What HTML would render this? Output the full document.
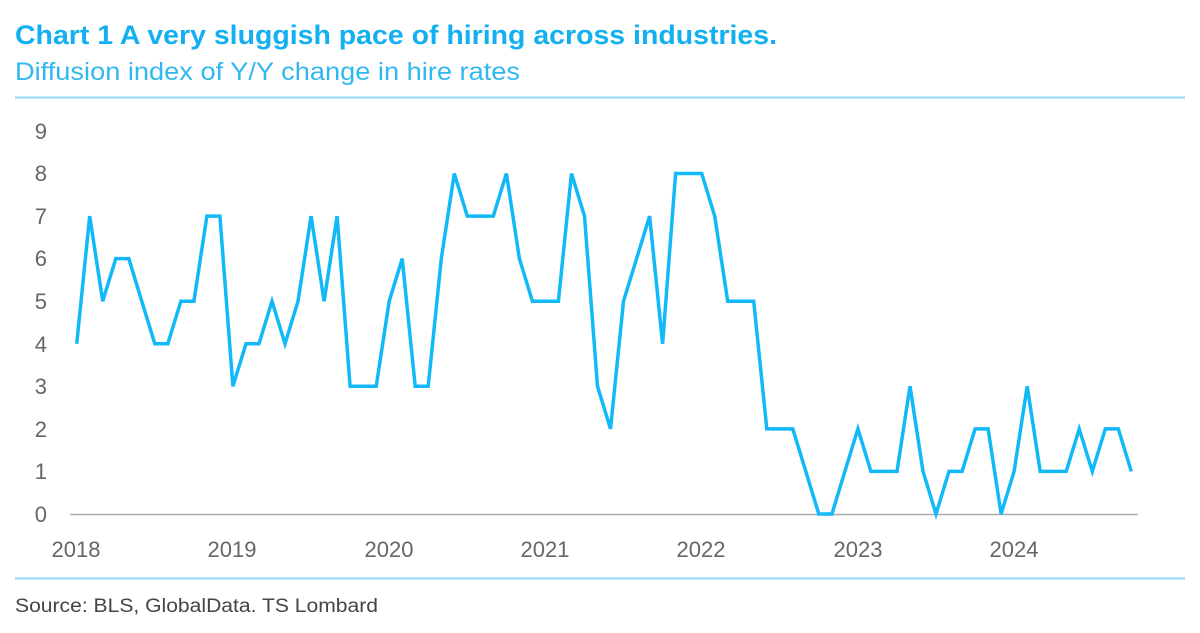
<!DOCTYPE html>
<html><head><meta charset="utf-8"><style>
body{margin:0;background:#fff;width:1200px;height:628px;overflow:hidden;font-family:"Liberation Sans",sans-serif}
</style></head><body>
<svg width="1200" height="628" xmlns="http://www.w3.org/2000/svg" font-family="Liberation Sans, sans-serif">
<text x="15" y="44" font-size="27" font-weight="bold" fill="#12b0f0" textLength="762" lengthAdjust="spacingAndGlyphs">Chart 1 A very sluggish pace of hiring across industries.</text>
<text x="15" y="80" font-size="25" fill="#30b8f0" textLength="505" lengthAdjust="spacingAndGlyphs">Diffusion index of Y/Y change in hire rates</text>
<line x1="15" y1="97.5" x2="1185" y2="97.5" stroke="#8fd8f8" stroke-width="2"/>
<line x1="15" y1="578.5" x2="1185" y2="578.5" stroke="#8fd8f8" stroke-width="2"/>
<g font-size="22" fill="#666" text-anchor="end">
<text x="47" y="522">0</text><text x="47" y="479">1</text><text x="47" y="437">2</text><text x="47" y="394">3</text><text x="47" y="352">4</text><text x="47" y="309">5</text><text x="47" y="266">6</text><text x="47" y="224">7</text><text x="47" y="181">8</text><text x="47" y="139">9</text>
</g>
<line x1="70" y1="514.5" x2="1138" y2="514.5" stroke="#aaa" stroke-width="1.5"/>
<g font-size="22" fill="#666" text-anchor="middle">
<text x="76" y="557">2018</text><text x="232" y="557">2019</text><text x="389" y="557">2020</text><text x="545" y="557">2021</text><text x="701" y="557">2022</text><text x="858" y="557">2023</text><text x="1014" y="557">2024</text>
</g>
<polyline fill="none" stroke="#12b9f8" stroke-width="3.5" points="76.7,343.8 89.7,216.1 102.7,301.2 115.8,258.6 128.8,258.6 141.8,301.2 154.8,343.8 167.8,343.8 180.9,301.2 193.9,301.2 206.9,216.1 219.9,216.1 232.9,386.3 246.0,343.8 259.0,343.8 272.0,301.2 285.0,343.8 298.0,301.2 311.1,216.1 324.1,301.2 337.1,216.1 350.1,386.3 363.1,386.3 376.2,386.3 389.2,301.2 402.2,258.6 415.2,386.3 428.2,386.3 441.3,258.6 454.3,173.5 467.3,216.1 480.3,216.1 493.3,216.1 506.4,173.5 519.4,258.6 532.4,301.2 545.4,301.2 558.4,301.2 571.5,173.5 584.5,216.1 597.5,386.3 610.5,428.9 623.5,301.2 636.6,258.6 649.6,216.1 662.6,343.8 675.6,173.5 688.6,173.5 701.7,173.5 714.7,216.1 727.7,301.2 740.7,301.2 753.7,301.2 766.8,428.9 779.8,428.9 792.8,428.9 805.8,471.4 818.8,514 831.9,514 844.9,471.4 857.9,428.9 870.9,471.4 883.9,471.4 897.0,471.4 910.0,386.3 923.0,471.4 936.0,514 949.0,471.4 962.1,471.4 975.1,428.9 988.1,428.9 1001.1,514 1014.1,471.4 1027.2,386.3 1040.2,471.4 1053.2,471.4 1066.2,471.4 1079.2,428.9 1092.3,471.4 1105.3,428.9 1118.3,428.9 1131.3,471.4"/>
<text x="15" y="612" font-size="19" fill="#444" textLength="363" lengthAdjust="spacingAndGlyphs">Source: BLS, GlobalData. TS Lombard</text>
</svg>
</body></html>
